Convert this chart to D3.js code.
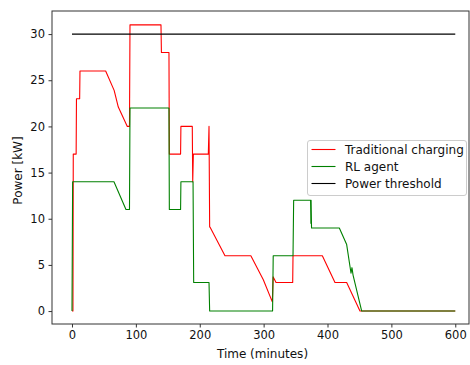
<!DOCTYPE html>
<html><head><meta charset="utf-8">
<script src="https://cdn.jsdelivr.net/npm/d3@7"></script>
<style>body{margin:0;background:#fff;} text{font-family:"DejaVu Sans",sans-serif;}</style>
</head><body>
<svg id="c" width="470" height="365"></svg>
<script>
// Data
const traditionalTime = [0, 1.5, 2, 6.5, 7, 12, 12.5, 52.7, 66, 72.5, 86.6, 90, 90.8, 139.3, 140, 151.8, 152.4, 170, 170.5, 188.3, 189, 190, 213.4, 214.5, 215.5, 216, 239.5, 280, 299.5, 313.6, 315, 319.4, 345.5, 346, 391.9, 411.7, 430, 450.8, 600];
const traditionalPower = [0, 0, 17, 17, 23, 23, 26, 26, 23.9, 22.1, 20, 20, 31, 31, 28, 28, 17, 17, 20, 20, 14, 17, 17, 20, 9.1, 9.1, 6, 6, 3.4, 1.0, 3.7, 3.1, 3.1, 6, 6, 3.1, 3.1, 0, 0];
const rlTime = [0, 1, 65.7, 84.5, 90, 90.8, 151.8, 152.4, 170, 170.5, 189.5, 190.5, 214.5, 215.5, 314, 315, 346, 347, 373.5, 374, 374.3, 375, 418.5, 430, 436.8, 438.3, 440, 453.5, 600];
const rlPower = [0, 14, 14, 11, 11, 22, 22, 11, 11, 14, 14, 3.1, 3.1, 0, 0, 6, 6, 12, 12, 9.5, 12, 9, 9, 7.2, 4.1, 4.7, 3.9, 0, 0];
const thresholdTime = [0, 600];
const thresholdPower = [30, 30];
const xTicks = [0, 100, 200, 300, 400, 500, 600];
const yTicks = [0, 5, 10, 15, 20, 25, 30];
const seriesNames = ["Traditional charging", "RL agent", "Power threshold"];
const seriesColors = ["#ff0000", "#008000", "#000000"];

const svg = d3.select("#c");
const L = 52, R = 469, T = 11, B = 324;
const x = d3.scaleLinear().domain([-31.3, 621.5]).range([L, R]);
const y = d3.scaleLinear().domain([-1.4, 32.5]).range([B, T]);
const fsTick = "11.5px", fs = "12px";

// axes
const xAxis = svg.append("g").attr("transform", `translate(0,${B})`)
  .call(d3.axisBottom(x).tickValues(xTicks).tickSize(3.5).tickPadding(3.5).tickSizeOuter(0));
const yAxis = svg.append("g").attr("transform", `translate(${L},0)`)
  .call(d3.axisLeft(y).tickValues(yTicks).tickSize(3.5).tickPadding(3.5).tickSizeOuter(0));
[xAxis, yAxis].forEach(g => {
  g.selectAll("text").style("font-size", fsTick).style("font-family", "DejaVu Sans").attr("fill", "#111");
  g.selectAll("line").attr("stroke", "#333");
  g.select(".domain").remove();
});
// frame
svg.append("rect").attr("x", L).attr("y", T).attr("width", R - L).attr("height", B - T)
  .attr("fill", "none").attr("stroke", "#333").attr("stroke-width", 1);

const line = d3.line().x(d => x(d[0])).y(d => y(d[1]));
const series = [
  d3.zip(traditionalTime, traditionalPower),
  d3.zip(rlTime, rlPower),
  d3.zip(thresholdTime, thresholdPower)
];
series.forEach((s, i) => {
  svg.append("path").datum(s).attr("d", line).attr("fill", "none")
    .attr("stroke", seriesColors[i]).attr("stroke-width", 1.1).attr("stroke-linejoin", "round");
});

// labels
svg.append("text").attr("x", (L + R) / 2 + 2).attr("y", 358).attr("text-anchor", "middle")
  .style("font-size", fs).attr("fill", "#111").text("Time (minutes)");
svg.append("text").attr("transform", `translate(22,${(T + B) / 2 + 3}) rotate(-90)`).attr("text-anchor", "middle")
  .style("font-size", fs).attr("fill", "#111").text("Power [kW]");

// legend
const lg = svg.append("g");
lg.append("rect").attr("x", 307.5).attr("y", 140.5).attr("width", 159).attr("height", 55).attr("rx", 2.5)
  .attr("fill", "#fff").attr("fill-opacity", 0.8).attr("stroke", "#ccc");
seriesNames.forEach((n, i) => {
  const yy = 149.5 + i * 17;
  lg.append("line").attr("x1", 311.5).attr("x2", 335.5).attr("y1", yy).attr("y2", yy)
    .attr("stroke", seriesColors[i]).attr("stroke-width", 1.1);
  lg.append("text").attr("x", 345).attr("y", yy + 4.5).style("font-size", fs).attr("fill", "#111").text(n);
});
</script>
</body></html>
